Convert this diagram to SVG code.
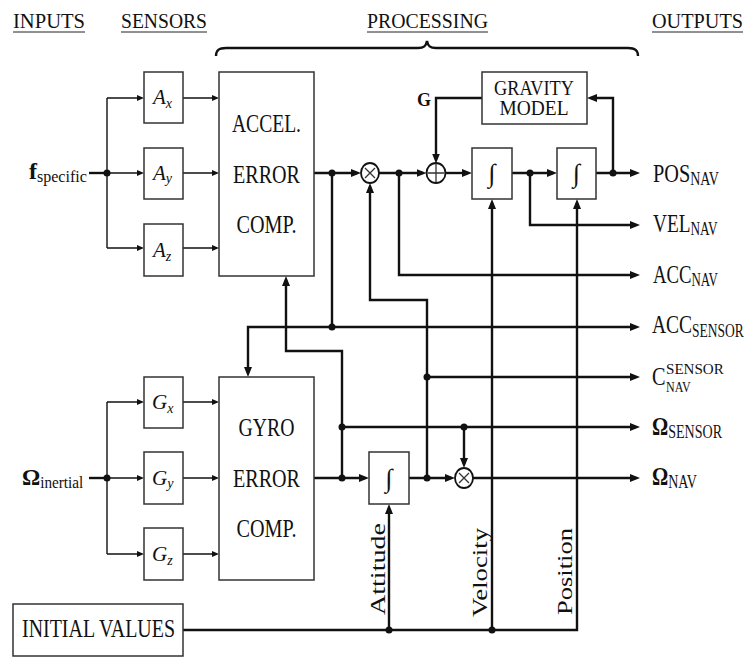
<svg xmlns="http://www.w3.org/2000/svg" width="753" height="657" viewBox="0 0 753 657">
<defs>
<style>
text{font-family:"Liberation Serif","DejaVu Serif",serif;fill:#111}
.hdr{font-size:20px}
.ul{stroke:#222;stroke-width:1}
.box{fill:#fff;stroke:#333;stroke-width:1.5}
.big{font-size:25px;text-anchor:middle}
.grav{font-size:20px;text-anchor:middle}
.sen{font-size:21px;font-style:italic}
.sub{font-size:14px;font-style:italic}
.lbl{font-size:26px}
.lsub{font-size:18px}
.csub{font-size:15.5px}
.rot{font-size:22px}
.thin{fill:none;stroke:#111;stroke-width:1.4}
.thick{fill:none;stroke:#111;stroke-width:2.4}
.ta{marker-end:url(#at)}
.tk{marker-end:url(#ak)}
.dot{fill:#111}
.op{fill:#fff;stroke:#111;stroke-width:1.8}
.opl{stroke:#333;stroke-width:1.3}
.int{font-size:26px;font-style:italic;text-anchor:middle}
</style>
<marker id="ak" markerUnits="userSpaceOnUse" markerWidth="10" markerHeight="8" refX="6" refY="4" orient="auto"><path d="M0,0 L10,4 L0,8 z" fill="#111"/></marker>
<marker id="at" markerUnits="userSpaceOnUse" markerWidth="7" markerHeight="6" refX="4" refY="3" orient="auto"><path d="M0,0 L7,3 L0,6 z" fill="#111"/></marker>
</defs>
<rect width="753" height="657" fill="#fff"/>

<g id="headers">
<text class="hdr" x="13" y="28" textLength="72" lengthAdjust="spacingAndGlyphs">INPUTS</text>
<text class="hdr" x="121" y="28" textLength="86" lengthAdjust="spacingAndGlyphs">SENSORS</text>
<text class="hdr" x="367" y="28" textLength="121" lengthAdjust="spacingAndGlyphs">PROCESSING</text>
<text class="hdr" x="652" y="28" textLength="91" lengthAdjust="spacingAndGlyphs">OUTPUTS</text>
<line class="ul" x1="13" y1="32" x2="85" y2="32"/>
<line class="ul" x1="121" y1="32" x2="207" y2="32"/>
<line class="ul" x1="367" y1="32" x2="488" y2="32"/>
<line class="ul" x1="652" y1="32" x2="743" y2="32"/>
<path d="M216,56 C216,50 219,48 226,48 L418,48 C424,48 426,46 427,41 C428,46 430,48 436,48 L628,48 C635,48 638,50 638,56" fill="none" stroke="#111" stroke-width="2.4"/>
</g>

<g id="connectors">
<path class="thin" d="M107,98 L107,248"/>
<path class="thin ta" d="M107,98 L141,98"/>
<path class="thin ta" d="M107,173 L141,173"/>
<path class="thin ta" d="M107,248 L141,248"/>
<path class="thin ta" d="M183,98 L216,98"/>
<path class="thin ta" d="M183,173 L216,173"/>
<path class="thin ta" d="M183,248 L216,248"/>
<path class="thin" d="M107,402 L107,554"/>
<path class="thin ta" d="M107,402 L141,402"/>
<path class="thin ta" d="M107,478 L141,478"/>
<path class="thin ta" d="M107,554 L141,554"/>
<path class="thin ta" d="M183,402 L216,402"/>
<path class="thin ta" d="M183,478 L216,478"/>
<path class="thin ta" d="M183,554 L216,554"/>

<path class="thick" d="M89,173 L107,173"/>
<path class="thick" d="M89,478 L107,478"/>
<path class="thick tk" d="M314,173 L357,173"/>
<path class="thick" d="M332,173 L332,327"/>
<path class="thick tk" d="M332,327 L636,327"/>
<path class="thick tk" d="M332,327 L248,327 L248,373"/>
<path class="thick tk" d="M379,173 L422.5,173"/>
<path class="thick tk" d="M399,173 L399,275 L636,275"/>
<path class="thick tk" d="M445.5,173 L468,173"/>
<path class="thick tk" d="M512,173 L553,173"/>
<path class="thick tk" d="M530,173 L530,225 L636,225"/>
<path class="thick tk" d="M596,173 L636,173"/>
<path class="thick tk" d="M613,173 L613,98 L591,98"/>
<path class="thick tk" d="M482,98 L436,98 L436,159.5"/>
<path class="thick tk" d="M427,478 L427,300 L370,300 L370,187"/>
<path class="thick tk" d="M427,377 L636,377"/>
<path class="thick tk" d="M314,478 L365,478"/>
<path class="thick tk" d="M342,478 L342,351 L286,351 L286,280"/>
<path class="thick tk" d="M342,427 L636,427"/>
<path class="thick tk" d="M464,427 L464,464"/>
<path class="thick tk" d="M408,478 L451,478"/>
<path class="thick tk" d="M473,478 L636,478"/>
<path class="thick tk" d="M183,630 L577,630 L577,203"/>
<path class="thick tk" d="M389,630 L389,508"/>
<path class="thick tk" d="M492,630 L492,203"/>

<circle class="dot" cx="107" cy="173" r="3.5"/>
<circle class="dot" cx="107" cy="478" r="3.5"/>
<circle class="dot" cx="332" cy="173" r="3.5"/>
<circle class="dot" cx="332" cy="327" r="3.5"/>
<circle class="dot" cx="399" cy="173" r="3.5"/>
<circle class="dot" cx="530" cy="173" r="3.5"/>
<circle class="dot" cx="613" cy="173" r="3.5"/>
<circle class="dot" cx="427" cy="478" r="3.5"/>
<circle class="dot" cx="427" cy="377" r="3.5"/>
<circle class="dot" cx="342" cy="478" r="3.5"/>
<circle class="dot" cx="342" cy="427" r="3.5"/>
<circle class="dot" cx="464" cy="427" r="3.5"/>
<circle class="dot" cx="389" cy="630" r="3.5"/>
<circle class="dot" cx="492" cy="630" r="3.5"/>
</g>

<g id="input-f">
<text x="29" y="179"><tspan font-size="24" font-weight="bold">f</tspan><tspan font-size="16" dy="3">specific</tspan></text>
</g>
<g id="input-omega">
<text transform="translate(22,485) scale(0.95,1)"><tspan font-size="24" font-weight="bold">Ω</tspan><tspan font-size="16" dy="3">inertial</tspan></text>
</g>

<g id="Ax"><rect class="box" x="144" y="72" width="39" height="51"/><text class="sen" x="153" y="104">A<tspan class="sub" dy="4">x</tspan></text></g>
<g id="Ay"><rect class="box" x="144" y="148" width="39" height="51"/><text class="sen" x="153" y="180">A<tspan class="sub" dy="3">y</tspan></text></g>
<g id="Az"><rect class="box" x="144" y="224" width="39" height="52"/><text class="sen" x="153" y="257">A<tspan class="sub" dy="4">z</tspan></text></g>
<g id="Gx"><rect class="box" x="144" y="377" width="39" height="51"/><text class="sen" x="152" y="409">G<tspan class="sub" dy="4">x</tspan></text></g>
<g id="Gy"><rect class="box" x="144" y="452" width="39" height="52"/><text class="sen" x="152" y="485">G<tspan class="sub" dy="3">y</tspan></text></g>
<g id="Gz"><rect class="box" x="144" y="528" width="39" height="52"/><text class="sen" x="152" y="561">G<tspan class="sub" dy="4">z</tspan></text></g>

<g id="accel-comp">
<rect class="box" x="219" y="72" width="95" height="204"/>
<text class="big" x="266.5" y="132" textLength="69" lengthAdjust="spacingAndGlyphs">ACCEL.</text>
<text class="big" x="266.5" y="183" textLength="67" lengthAdjust="spacingAndGlyphs">ERROR</text>
<text class="big" x="266.5" y="233" textLength="60" lengthAdjust="spacingAndGlyphs">COMP.</text>
</g>
<g id="gyro-comp">
<rect class="box" x="219" y="377" width="95" height="203"/>
<text class="big" x="266.5" y="436" textLength="56" lengthAdjust="spacingAndGlyphs">GYRO</text>
<text class="big" x="266.5" y="487" textLength="67" lengthAdjust="spacingAndGlyphs">ERROR</text>
<text class="big" x="266.5" y="537" textLength="60" lengthAdjust="spacingAndGlyphs">COMP.</text>
</g>

<g id="gravity-model">
<rect class="box" x="482" y="72" width="105" height="52"/>
<text class="grav" x="534" y="95" textLength="80" lengthAdjust="spacingAndGlyphs">GRAVITY</text>
<text class="grav" x="534" y="115" textLength="69" lengthAdjust="spacingAndGlyphs">MODEL</text>
</g>
<g id="g-label"><text x="417" y="106" font-size="18" font-weight="bold">G</text></g>

<g id="mult1">
<ellipse class="op" cx="370" cy="173" rx="9" ry="10"/>
<path class="opl" d="M365,168 L375,178 M375,168 L365,178"/>
</g>
<g id="sum">
<ellipse class="op" cx="436" cy="173" rx="9.5" ry="10"/>
<path class="opl" d="M436,164 L436,182 M427.5,173 L444.5,173"/>
</g>
<g id="mult2">
<ellipse class="op" cx="464" cy="478" rx="9" ry="10"/>
<path class="opl" d="M459,473 L469,483 M469,473 L459,483"/>
</g>

<g id="int-vel"><rect class="box" x="472" y="148" width="40" height="51"/><text class="int" x="492" y="182">∫</text></g>
<g id="int-pos"><rect class="box" x="557" y="148" width="39" height="51"/><text class="int" x="576.5" y="182">∫</text></g>
<g id="int-att"><rect class="box" x="369" y="452" width="40" height="52"/><text class="int" x="389" y="487">∫</text></g>

<g id="initial-values">
<rect class="box" x="13" y="604" width="170" height="52"/>
<text x="22" y="637" font-size="25" textLength="153" lengthAdjust="spacingAndGlyphs">INITIAL VALUES</text>
</g>

<g id="vertical-labels">
<text class="rot" transform="translate(385,615) rotate(-90)" textLength="92" lengthAdjust="spacingAndGlyphs">Attitude</text>
<text class="rot" transform="translate(487,617) rotate(-90)" textLength="89" lengthAdjust="spacingAndGlyphs">Velocity</text>
<text class="rot" transform="translate(572,615) rotate(-90)" textLength="87" lengthAdjust="spacingAndGlyphs">Position</text>
</g>

<g id="outputs">
<g id="out-pos"><text transform="translate(653,182) scale(0.78,1)"><tspan class="lbl">POS</tspan><tspan class="lsub" dy="3">NAV</tspan></text></g>
<g id="out-vel"><text transform="translate(653,232) scale(0.74,1)"><tspan class="lbl">VEL</tspan><tspan class="lsub" dy="3">NAV</tspan></text></g>
<g id="out-accnav"><text transform="translate(653,283) scale(0.72,1)"><tspan class="lbl">ACC</tspan><tspan class="lsub" dy="3">NAV</tspan></text></g>
<g id="out-accsensor"><text transform="translate(652,333) scale(0.75,1)"><tspan class="lbl">ACC</tspan><tspan class="lsub" dy="4">SENSOR</tspan></text></g>
<g id="out-c"><text transform="translate(652,385) scale(0.78,1)"><tspan class="lbl">C</tspan><tspan class="csub" x="18" y="-11" textLength="74" lengthAdjust="spacingAndGlyphs">SENSOR</tspan><tspan class="csub" x="18" y="7">NAV</tspan></text></g>
<g id="out-omsensor"><text transform="translate(652,435) scale(0.78,1)"><tspan class="lbl" font-weight="bold">Ω</tspan><tspan class="lsub" dy="3">SENSOR</tspan></text></g>
<g id="out-omnav"><text transform="translate(652,485) scale(0.78,1)"><tspan class="lbl" font-weight="bold">Ω</tspan><tspan class="lsub" dy="3">NAV</tspan></text></g>
</g>
</svg>
